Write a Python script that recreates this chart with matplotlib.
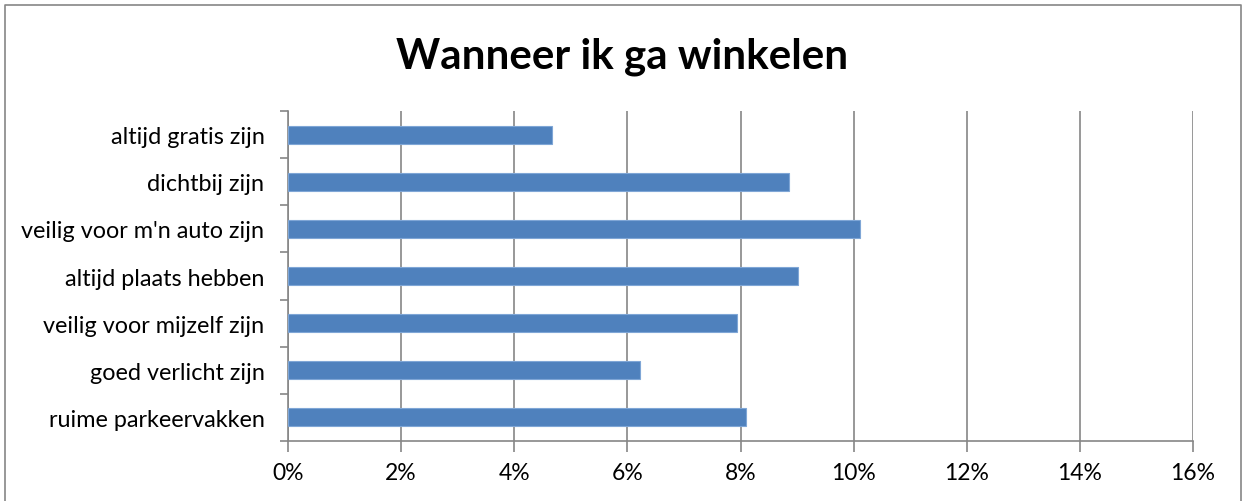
import matplotlib
matplotlib.use("Agg")
import matplotlib.pyplot as plt
from matplotlib.lines import Line2D
from matplotlib.ticker import FuncFormatter, FixedLocator

categories = ["altijd gratis zijn", "dichtbij zijn", "veilig voor m'n auto zijn",
              "altijd plaats hebben", "veilig voor mijzelf zijn", "goed verlicht zijn",
              "ruime parkeervakken"]
values = [4.67, 8.86, 10.11, 9.02, 7.94, 6.22, 8.10]
xticks = [0, 2, 4, 6, 8, 10, 12, 14, 16]
title = "Wanneer ik ga winkelen"

plt.rcParams['font.family'] = ['Lato', 'DejaVu Sans']

fig = plt.figure(figsize=(12.45, 5.02), dpi=100)
x0, x1, ytop = 5.5/1245, 1241/1245, 1 - 5.5/502
fig.lines.append(Line2D([x0, x0, x1, x1], [-0.01, ytop, ytop, -0.01], transform=fig.transFigure,
                        color='#868686', linewidth=1.2))
ax = fig.add_axes([288/1245, 1 - 442/502, (1193 - 288)/1245, (442 - 112)/502])

n = len(categories)
ypos = list(range(n))[::-1]
ax.barh(ypos, values, height=0.38, color='#4F81BD', edgecolor='#7FA6D6', linewidth=0.8, zorder=3)
ax.set_xlim(0, 16)
ax.set_ylim(-0.5, n - 0.5)
ax.xaxis.set_major_locator(FixedLocator(xticks))
ax.xaxis.set_major_formatter(FuncFormatter(lambda v, p: f"{int(v)}%"))
ax.set_yticks(ypos)
ax.set_yticklabels(categories)
ax.yaxis.set_minor_locator(FixedLocator([i - 0.5 for i in range(n + 1)]))
ax.tick_params(axis='y', which='major', length=0, pad=17, labelsize=16.8, labelcolor='black')
ax.tick_params(axis='y', which='minor', length=6, color='#868686', width=1.2)
ax.tick_params(axis='x', length=8, color='#868686', width=1.2, pad=7, labelsize=16.5)
ax.grid(axis='x', color='#868686', linewidth=1.2, zorder=0)
for s in ['top', 'right']:
    ax.spines[s].set_visible(False)
for s in ['left', 'bottom']:
    ax.spines[s].set_color('#868686')
    ax.spines[s].set_linewidth(1.2)
ax.set_axisbelow(True)

fig.text(0.5, 1 - 57/502, title, ha='center', va='center', fontsize=30.3, fontweight='bold')

fig.savefig("out.png", dpi=100)
